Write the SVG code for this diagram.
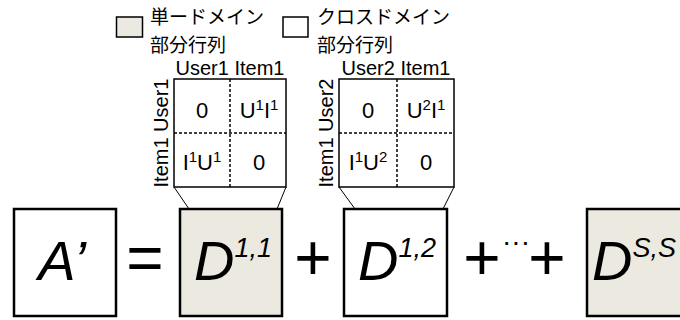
<svg xmlns="http://www.w3.org/2000/svg" width="680" height="320" viewBox="0 0 680 320">
<style>
.big{fill:#fff;stroke:#000;stroke-width:2.5}
.sh{fill:#ECEAE0}
.mx{fill:#fff;stroke:#000;stroke-width:1.5}
.dash{stroke:#000;stroke-width:1.5;stroke-dasharray:3 2;fill:none}
.conn{stroke:#000;stroke-width:1;fill:none}
.lbl{font-family:"Liberation Sans",Arial,sans-serif;font-size:20px;fill:#000}
.cell{font-family:"Liberation Sans",Arial,sans-serif;font-size:22px;fill:#000;text-anchor:middle}
.sup{font-size:15px}
.jp{font-family:"Noto Sans CJK JP",sans-serif;font-size:19px;fill:#000}
.math{font-family:"Liberation Sans",Arial,sans-serif;font-style:italic;font-size:56px;fill:#000;text-anchor:middle}
.msup{font-size:27px}
.op{font-family:"Liberation Sans",Arial,sans-serif;font-size:64px;fill:#000;text-anchor:middle}
.lg{stroke:#000;stroke-width:1.5}
</style>
<g id="legend-single">
<rect class="lg sh" x="116.5" y="17" width="26" height="20"/>
<text class="jp" x="150" y="24">単ードメイン</text>
<text class="jp" x="150" y="52">部分行列</text>
</g>
<g id="legend-cross">
<rect class="lg" fill="#fff" x="283" y="17" width="25" height="20"/>
<text class="jp" x="317" y="24">クロスドメイン</text>
<text class="jp" x="317" y="52">部分行列</text>
</g>
<g id="matrix1">
<text class="lbl" x="230" y="75" text-anchor="middle">User1 Item1</text>
<text class="lbl" transform="translate(168,133) rotate(-90)" text-anchor="middle">Item1 User1</text>
<rect class="mx" x="174" y="79" width="112" height="108"/>
<line class="dash" x1="230" y1="79" x2="230" y2="187"/>
<line class="dash" x1="174" y1="133" x2="286" y2="133"/>
<text class="cell" x="202" y="118">0</text>
<text class="cell" x="259" y="118">U<tspan class="sup" dy="-8">1</tspan><tspan dy="8">I</tspan><tspan class="sup" dy="-8">1</tspan></text>
<text class="cell" x="202" y="170">I<tspan class="sup" dy="-8">1</tspan><tspan dy="8">U</tspan><tspan class="sup" dy="-8">1</tspan></text>
<text class="cell" x="259" y="170">0</text>
</g>
<g id="matrix2">
<text class="lbl" x="396" y="75" text-anchor="middle">User2 Item1</text>
<text class="lbl" transform="translate(333,133) rotate(-90)" text-anchor="middle">Item1 User2</text>
<rect class="mx" x="339" y="79" width="115" height="108"/>
<line class="dash" x1="397" y1="79" x2="397" y2="187"/>
<line class="dash" x1="339" y1="133" x2="454" y2="133"/>
<text class="cell" x="368" y="118">0</text>
<text class="cell" x="426" y="118">U<tspan class="sup" dy="-8">2</tspan><tspan dy="8">I</tspan><tspan class="sup" dy="-8">1</tspan></text>
<text class="cell" x="368" y="170">I<tspan class="sup" dy="-8">1</tspan><tspan dy="8">U</tspan><tspan class="sup" dy="-8">2</tspan></text>
<text class="cell" x="426" y="170">0</text>
</g>
<g id="connectors">
<line class="conn" x1="174" y1="187" x2="189" y2="209"/>
<line class="conn" x1="286" y1="187" x2="277" y2="209"/>
<line class="conn" x1="339" y1="187" x2="355" y2="209"/>
<line class="conn" x1="454" y1="187" x2="443" y2="209"/>
</g>
<g id="A">
<rect class="big" x="14" y="209" width="102" height="107"/>
<text class="math" x="62" y="280">A’</text>
</g>
<text class="op" x="145" y="280">=</text>
<g id="D11">
<rect class="big sh" x="180" y="209" width="102" height="107"/>
<text class="math" x="233" y="280">D<tspan class="msup" dy="-23">1,1</tspan></text>
</g>
<text class="op" x="313" y="280">+</text>
<g id="D12">
<rect class="big" x="344" y="209" width="103" height="107"/>
<text class="math" x="397" y="280">D<tspan class="msup" dy="-23">1,2</tspan></text>
</g>
<text class="op" x="482" y="280">+</text>
<text class="op" x="516" y="251" style="font-size:28px">···</text>
<text class="op" x="547" y="280">+</text>
<g id="DSS">
<rect class="big sh" x="587" y="209" width="102" height="107"/>
<text class="math" x="634" y="280">D<tspan class="msup" dy="-23">S,S</tspan></text>
</g>
</svg>
